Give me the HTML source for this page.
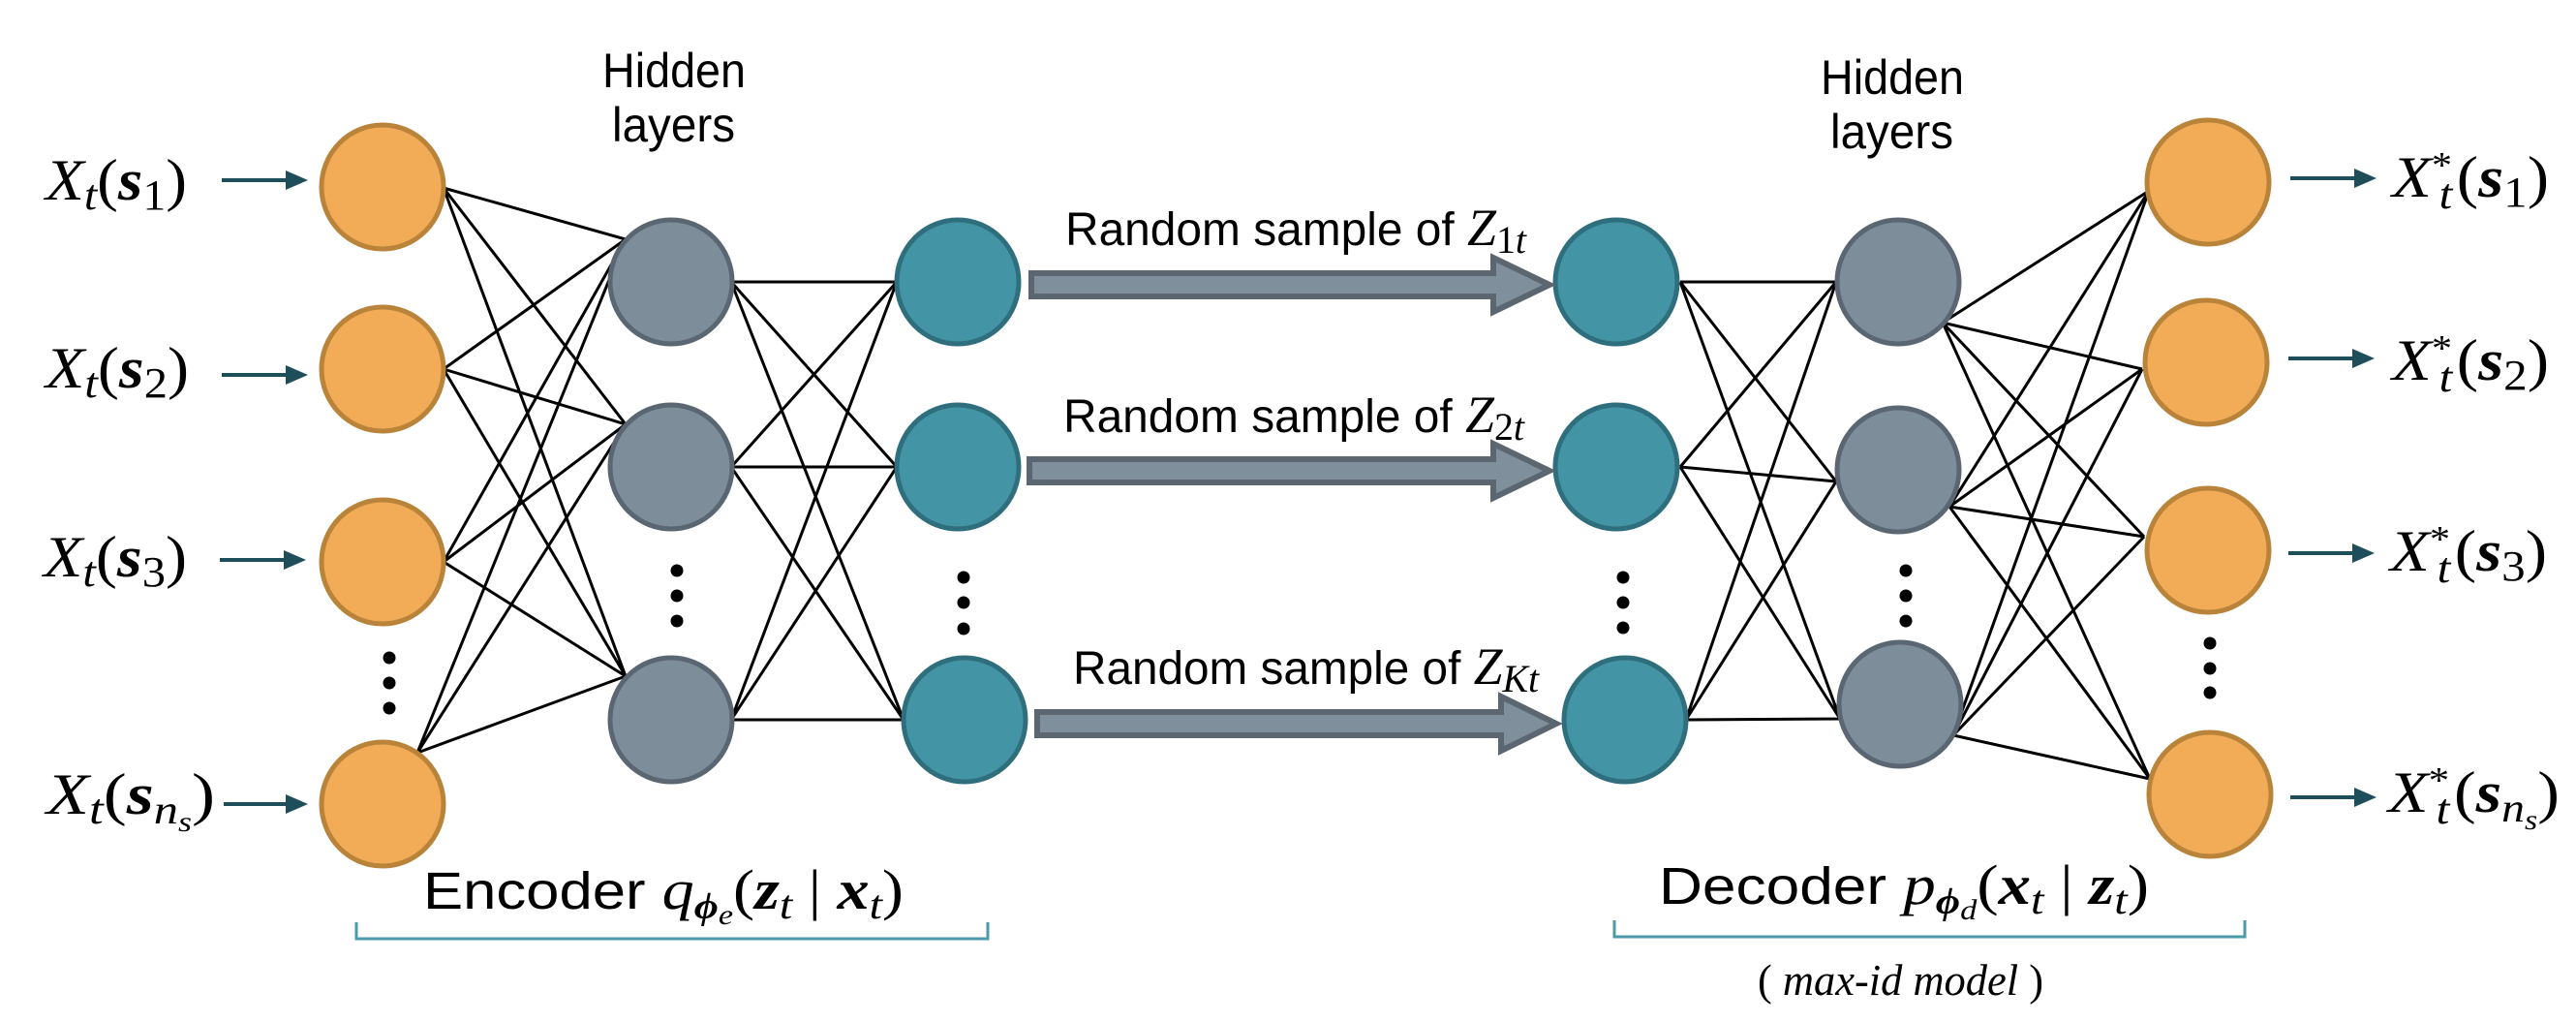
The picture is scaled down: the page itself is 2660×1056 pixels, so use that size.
<!DOCTYPE html>
<html><head><meta charset="utf-8"><style>
html,body{margin:0;padding:0;background:#fff;}
svg{display:block;}
.s{font-family:"Liberation Sans",sans-serif;fill:#000;}
.m{font-family:"Liberation Serif",serif;fill:#000;}
</style></head><body>
<svg width="2660" height="1056" viewBox="0 0 2660 1056" xmlns="http://www.w3.org/2000/svg">
<g stroke="#000" stroke-width="3" fill="none">
<path d="M458 194L646 247M458 194L646 438M458 194L646 698
M458 381L646 247M458 381L646 438M458 381L646 698
M458 580L646 247M458 580L646 438M458 580L646 698
M431 777L646 247M431 777L646 438M431 777L646 698"/>
<path d="M755 291L926 291M755 291L926 482M755 291L933 743
M755 482L926 291M755 482L926 482M755 482L933 743
M755 743L926 291M755 743L926 482M755 743L933 743"/>
<path d="M1735 291L1896 291M1735 291L1896 497M1735 291L1900 742
M1735 482L1896 291M1735 482L1896 497M1735 482L1900 742
M1741 743L1896 291M1741 743L1896 497M1741 743L1900 742"/>
<path d="M2006 333L2219 197M2006 333L2212 381M2006 333L2214 554M2006 333L2220 804
M2013 523L2219 197M2013 523L2212 381M2013 523L2214 554M2013 523L2220 804
M2017 759L2219 197M2017 759L2212 381M2017 759L2214 554M2017 759L2220 804"/>
</g>
<g stroke-width="5">
<g fill="#F2AC57" stroke="#B9833A">
<ellipse cx="395" cy="193" rx="63" ry="64"/><ellipse cx="395" cy="381" rx="63" ry="64"/><ellipse cx="395" cy="580" rx="63" ry="64"/><ellipse cx="395" cy="830" rx="63" ry="64"/>
<ellipse cx="2280" cy="188" rx="63" ry="64"/><ellipse cx="2278" cy="374" rx="63" ry="64"/><ellipse cx="2280" cy="568" rx="63" ry="64"/><ellipse cx="2282" cy="820" rx="63" ry="64"/>
</g>
<g fill="#7D8E9A" stroke="#5A6671">
<ellipse cx="693" cy="291" rx="63" ry="64"/><ellipse cx="693" cy="482" rx="63" ry="64"/><ellipse cx="693" cy="743" rx="63" ry="64"/>
<ellipse cx="1960" cy="291" rx="63" ry="64"/><ellipse cx="1960" cy="485" rx="63" ry="64"/><ellipse cx="1962" cy="727" rx="63" ry="64"/>
</g>
<g fill="#4394A5" stroke="#2F6F7D">
<ellipse cx="989" cy="291" rx="63" ry="64"/><ellipse cx="989" cy="482" rx="63" ry="64"/><ellipse cx="996" cy="743" rx="63" ry="64"/>
<ellipse cx="1669" cy="291" rx="63" ry="64"/><ellipse cx="1669" cy="482" rx="63" ry="64"/><ellipse cx="1678" cy="743" rx="63" ry="64"/>
</g>
</g>
<g fill="#000">
<circle cx="402" cy="679" r="6.5"/><circle cx="402" cy="705" r="6.5"/><circle cx="402" cy="731" r="6.5"/>
<circle cx="699" cy="589" r="6.5"/><circle cx="699" cy="615" r="6.5"/><circle cx="699" cy="641" r="6.5"/>
<circle cx="995" cy="596" r="6.5"/><circle cx="995" cy="622" r="6.5"/><circle cx="995" cy="649" r="6.5"/>
<circle cx="1676" cy="596" r="6.5"/><circle cx="1676" cy="622" r="6.5"/><circle cx="1676" cy="648" r="6.5"/>
<circle cx="1968" cy="589" r="6.5"/><circle cx="1968" cy="615" r="6.5"/><circle cx="1968" cy="641" r="6.5"/>
<circle cx="2282" cy="664" r="6.5"/><circle cx="2282" cy="690" r="6.5"/><circle cx="2282" cy="715" r="6.5"/>
</g>
<g fill="#7F909C" stroke="#5B6670" stroke-width="6">
<path d="M1065 282 H1542 V266 L1600 294 L1542 322 V306 H1065 Z"/>
<path d="M1063 474 H1542 V458 L1600 486 L1542 514 V498 H1063 Z"/>
<path d="M1071 735 H1550 V719 L1607 747 L1550 775 V759 H1071 Z"/>
</g>
<g stroke="#1F4E5B" stroke-width="4" fill="#1F4E5B">
<line x1="229" y1="186" x2="298" y2="186"/><path d="M295 176 L318 186 L295 196 Z" stroke="none"/>
<line x1="229" y1="387" x2="298" y2="387"/><path d="M295 377 L318 387 L295 397 Z" stroke="none"/>
<line x1="227" y1="578" x2="296" y2="578"/><path d="M293 568 L316 578 L293 588 Z" stroke="none"/>
<line x1="231" y1="830" x2="298" y2="830"/><path d="M295 820 L318 830 L295 840 Z" stroke="none"/>
<line x1="2365" y1="184" x2="2434" y2="184"/><path d="M2431 174 L2454 184 L2431 194 Z" stroke="none"/>
<line x1="2363" y1="370" x2="2432" y2="370"/><path d="M2429 360 L2452 370 L2429 380 Z" stroke="none"/>
<line x1="2363" y1="571" x2="2432" y2="571"/><path d="M2429 561 L2452 571 L2429 581 Z" stroke="none"/>
<line x1="2365" y1="823" x2="2434" y2="823"/><path d="M2431 813 L2454 823 L2431 833 Z" stroke="none"/>
</g>
<g stroke="#4A9AAA" stroke-width="3" fill="none">
<path d="M368 952 V969 H1020 V952"/>
<path d="M1667 950 V967 H2318 V950"/>
</g>
<text class="s" x="622" y="90" font-size="50" textLength="148" lengthAdjust="spacingAndGlyphs">Hidden</text>
<text class="s" x="632" y="146" font-size="50" textLength="127" lengthAdjust="spacingAndGlyphs">layers</text>
<text class="s" x="1880" y="97" font-size="50" textLength="148" lengthAdjust="spacingAndGlyphs">Hidden</text>
<text class="s" x="1890" y="153" font-size="50" textLength="127" lengthAdjust="spacingAndGlyphs">layers</text>
<text class="s" x="1100" y="253" font-size="48" textLength="476" lengthAdjust="spacingAndGlyphs">Random sample of <tspan class="m" font-style="italic" font-size="54">Z</tspan><tspan class="m" font-size="40" dy="8">1</tspan><tspan class="m" font-style="italic" font-size="40">t</tspan></text>
<text class="s" x="1098" y="446" font-size="48" textLength="476" lengthAdjust="spacingAndGlyphs">Random sample of <tspan class="m" font-style="italic" font-size="54">Z</tspan><tspan class="m" font-size="40" dy="8">2</tspan><tspan class="m" font-style="italic" font-size="40">t</tspan></text>
<text class="s" x="1108" y="706" font-size="48" textLength="481" lengthAdjust="spacingAndGlyphs">Random sample of <tspan class="m" font-style="italic" font-size="54">Z</tspan><tspan class="m" font-style="italic" font-size="40" dy="8">Kt</tspan></text>
<g class="m" font-size="60">
<text x="47" y="206" textLength="146" lengthAdjust="spacingAndGlyphs"><tspan font-style="italic">X</tspan><tspan font-style="italic" font-size="44" dy="10">t</tspan><tspan dy="-10">(</tspan><tspan font-weight="bold" font-style="italic">s</tspan><tspan font-size="44" dy="10">1</tspan><tspan dy="-10">)</tspan></text>
<text x="47" y="400" textLength="148" lengthAdjust="spacingAndGlyphs"><tspan font-style="italic">X</tspan><tspan font-style="italic" font-size="44" dy="10">t</tspan><tspan dy="-10">(</tspan><tspan font-weight="bold" font-style="italic">s</tspan><tspan font-size="44" dy="10">2</tspan><tspan dy="-10">)</tspan></text>
<text x="45" y="595" textLength="148" lengthAdjust="spacingAndGlyphs"><tspan font-style="italic">X</tspan><tspan font-style="italic" font-size="44" dy="10">t</tspan><tspan dy="-10">(</tspan><tspan font-weight="bold" font-style="italic">s</tspan><tspan font-size="44" dy="10">3</tspan><tspan dy="-10">)</tspan></text>
<text x="48" y="840" textLength="174" lengthAdjust="spacingAndGlyphs"><tspan font-style="italic">X</tspan><tspan font-style="italic" font-size="44" dy="10">t</tspan><tspan dy="-10">(</tspan><tspan font-weight="bold" font-style="italic">s</tspan><tspan font-style="italic" font-size="42" dy="10">n</tspan><tspan font-style="italic" font-size="30" dy="8">s</tspan><tspan dy="-18">)</tspan></text>
</g>
<g class="m" font-size="60">
<text x="2470" y="203" textLength="162" lengthAdjust="spacingAndGlyphs"><tspan font-style="italic">X</tspan><tspan font-size="38" dy="-20">*</tspan><tspan font-style="italic" font-size="44" dx="-12" dy="32">t</tspan><tspan dx="4" dy="-12">(</tspan><tspan font-weight="bold" font-style="italic">s</tspan><tspan font-size="44" dy="10">1</tspan><tspan dy="-10">)</tspan></text>
<text x="2470" y="392" textLength="162" lengthAdjust="spacingAndGlyphs"><tspan font-style="italic">X</tspan><tspan font-size="38" dy="-20">*</tspan><tspan font-style="italic" font-size="44" dx="-12" dy="32">t</tspan><tspan dx="4" dy="-12">(</tspan><tspan font-weight="bold" font-style="italic">s</tspan><tspan font-size="44" dy="10">2</tspan><tspan dy="-10">)</tspan></text>
<text x="2468" y="589" textLength="162" lengthAdjust="spacingAndGlyphs"><tspan font-style="italic">X</tspan><tspan font-size="38" dy="-20">*</tspan><tspan font-style="italic" font-size="44" dx="-12" dy="32">t</tspan><tspan dx="4" dy="-12">(</tspan><tspan font-weight="bold" font-style="italic">s</tspan><tspan font-size="44" dy="10">3</tspan><tspan dy="-10">)</tspan></text>
<text x="2466" y="838" textLength="177" lengthAdjust="spacingAndGlyphs"><tspan font-style="italic">X</tspan><tspan font-size="38" dy="-20">*</tspan><tspan font-style="italic" font-size="44" dx="-12" dy="32">t</tspan><tspan dx="4" dy="-12">(</tspan><tspan font-weight="bold" font-style="italic">s</tspan><tspan font-style="italic" font-size="42" dy="10">n</tspan><tspan font-style="italic" font-size="30" dy="8">s</tspan><tspan dy="-18">)</tspan></text>
</g>
<text class="s" x="437" y="938" font-size="54" textLength="496" lengthAdjust="spacingAndGlyphs">Encoder <tspan class="m" font-style="italic" font-size="58">q</tspan><tspan class="m" font-weight="bold" font-style="italic" font-size="38" dy="10">ϕ</tspan><tspan class="m" font-style="italic" font-size="30" dy="6">e</tspan><tspan class="m" font-size="58" dy="-16">(</tspan><tspan class="m" font-weight="bold" font-style="italic" font-size="58">z</tspan><tspan class="m" font-style="italic" font-size="42" dy="10">t</tspan><tspan class="m" font-size="58" dy="-10"> | </tspan><tspan class="m" font-weight="bold" font-style="italic" font-size="58">x</tspan><tspan class="m" font-style="italic" font-size="42" dy="10">t</tspan><tspan class="m" font-size="58" dy="-10">)</tspan></text>
<text class="s" x="1713" y="933" font-size="54" textLength="506" lengthAdjust="spacingAndGlyphs">Decoder <tspan class="m" font-style="italic" font-size="58">p</tspan><tspan class="m" font-weight="bold" font-style="italic" font-size="38" dy="10">ϕ</tspan><tspan class="m" font-style="italic" font-size="30" dy="6">d</tspan><tspan class="m" font-size="58" dy="-16">(</tspan><tspan class="m" font-weight="bold" font-style="italic" font-size="58">x</tspan><tspan class="m" font-style="italic" font-size="42" dy="10">t</tspan><tspan class="m" font-size="58" dy="-10"> | </tspan><tspan class="m" font-weight="bold" font-style="italic" font-size="58">z</tspan><tspan class="m" font-style="italic" font-size="42" dy="10">t</tspan><tspan class="m" font-size="58" dy="-10">)</tspan></text>
<text class="m" x="1815" y="1027" font-size="46" textLength="295" lengthAdjust="spacingAndGlyphs">( <tspan font-style="italic">max-id model</tspan> )</text>
</svg>
</body></html>
